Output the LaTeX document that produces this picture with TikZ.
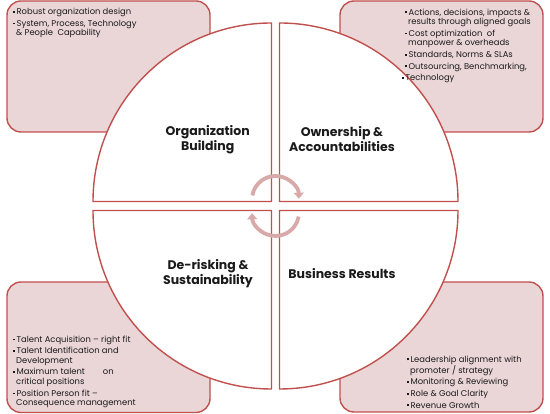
\documentclass[tikz,border=0pt]{standalone}
\usepackage{fontspec}
\setmainfont{Poppins}
\usetikzlibrary{arrows.meta}
\definecolor{bordred}{HTML}{C0504D}
\definecolor{boxpink}{HTML}{EBD6D7}
\definecolor{arcpink}{HTML}{D9A9A9}
\definecolor{txt}{HTML}{1A1A1A}
\newcommand\sq{\rule[1.8pt]{1.8pt}{1.8pt}\hspace{1.6pt}}
\newcommand\ind{\hspace*{3pt}}
\begin{document}
\begin{tikzpicture}[x=1pt,y=1pt,
  cornerbox/.style={draw=bordred,fill=boxpink,line width=1.4pt,rounded corners=14pt},
  quad/.style={draw=bordred,fill=white,line width=1.4pt},
  cyc/.style={draw=arcpink,line width=3.8pt,-{Triangle[width=10pt,length=6pt]}},
  bullets/.style={inner sep=0pt,anchor=north west,align=left,text=txt,
    font=\fontsize{8.4}{9.6}\selectfont},
  title/.style={inner sep=0pt,align=center,text=txt,
    font=\fontsize{12.5}{15}\selectfont\bfseries}]
\useasboundingbox (0,0) rectangle (550,414);
% corner boxes
\draw[cornerbox] (7,282) rectangle (210,413);
\draw[cornerbox] (340,282) rectangle (543,413);
\draw[cornerbox] (7,1.5) rectangle (210,132);
\draw[cornerbox] (340,2) rectangle (543,132);
% quadrants
\def\R{178.5}
\draw[quad] (271.5,212.5) -- ++(-\R,0) arc[start angle=180,end angle=90,radius=\R] -- cycle;
\draw[quad] (279.5,212.5) -- ++(0,\R) arc[start angle=90,end angle=0,radius=\R] -- cycle;
\draw[quad] (271.5,203.5) -- ++(0,-\R) arc[start angle=270,end angle=180,radius=\R] -- cycle;
\draw[quad] (279.5,203.5) -- ++(\R,0) arc[start angle=0,end angle=-90,radius=\R] -- cycle;
% cycle arrows
\coordinate (ca) at (275.5,214.5);
\coordinate (cb) at (275.5,201.5);
\draw[cyc] ([shift={(170:23.5)}]ca) arc[start angle=170,end angle=2,radius=23.5];
\draw[cyc] ([shift={(-10:23.5)}]cb) arc[start angle=-10,end angle=-178,radius=23.5];
% titles
\node[title] (ob) at (207.7,274.5) {Organization\\Building};
\node[title] (oa) at (342,274.5) {Ownership \&\\Accountabilities};
\node[title] (ds) at (208,140.5) {De-risking \&\\Sustainability};
\node[title] (bres) at (342,140) {Business Results};
% bullet texts
\node[bullets] (tl) at (13,406) {\sq Robust organization design\\[2pt]
\sq System, Process, Technology\\
\ind\& People\ \ Capability};
\node[bullets] (tr) at (405,405.5) {\sq Actions, decisions, impacts \&\\
\ind results through aligned goals\\[2pt]
\sq Cost optimization\ \ of\\
\ind manpower \& overheads\\[2pt]
\sq Standards,\ Norms \& SLAs\\[2pt]
\sq Outsourcing,\ Benchmarking,\\[2pt]
\hspace*{-3pt}\sq Technology};
\node[bullets] (bl) at (13,78.5) {\sq Talent\ Acquisition -- right fit\\[2pt]
\sq Talent\ Identification and\\
\ind Development\\[2pt]
\sq Maximum talent\hspace{18pt}on\\
\ind critical positions\\[2pt]
\sq Position Person fit --\\
\ind Consequence management};
\node[bullets] (br) at (407,58.5) {\sq Leadership alignment with\\
\ind promoter / strategy\\[2pt]
\sq Monitoring \& Reviewing\\[2pt]
\sq Role \& Goal Clarity\\[2pt]
\sq Revenue Growth};
\end{tikzpicture}
\end{document}
